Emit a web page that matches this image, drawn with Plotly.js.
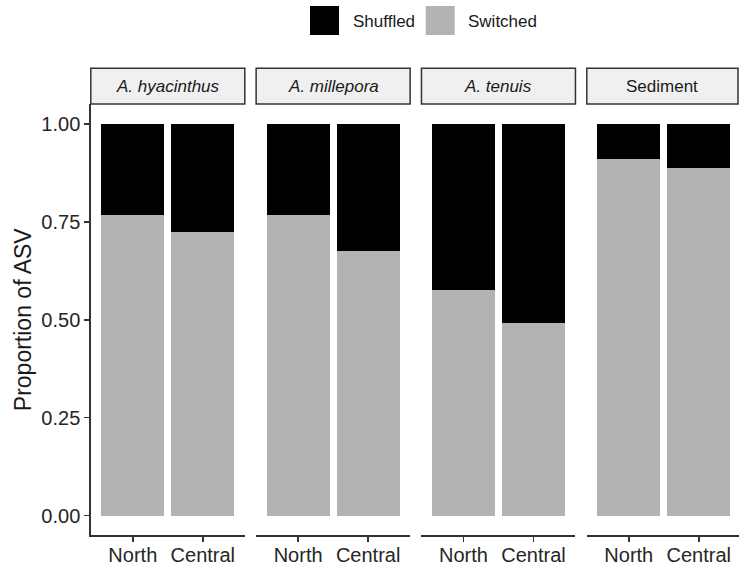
<!DOCTYPE html>
<html>
<head>
<meta charset="utf-8">
<script src="https://cdn.plot.ly/plotly-3.0.1.min.js"></script>
<style>html,body{margin:0;padding:0;background:#fff;}#chart{width:739px;height:570px;}</style>
</head>
<body>
<div id="chart"></div>
<script>
// ---- data ----
const panels = ['A. hyacinthus', 'A. millepora', 'A. tenuis', 'Sediment'];
const panelItalic = [true, true, true, false];
const sites = ['North', 'Central'];
const seriesNames = ['Shuffled', 'Switched'];
const seriesColors = ['#000000', '#b3b3b3'];
const switchedHyacinthus = [0.768, 0.724];
const switchedMillepora = [0.768, 0.676];
const switchedTenuis = [0.577, 0.492];
const switchedSediment = [0.911, 0.887];
const shuffledHyacinthus = [0.232, 0.276];
const shuffledMillepora = [0.232, 0.324];
const shuffledTenuis = [0.423, 0.508];
const shuffledSediment = [0.089, 0.113];
const yTickVals = [0, 0.25, 0.5, 0.75, 1];
const yTickText = ['0.00', '0.25', '0.50', '0.75', '1.00'];

const switchedAll = [switchedHyacinthus, switchedMillepora, switchedTenuis, switchedSediment];
const shuffledAll = [shuffledHyacinthus, shuffledMillepora, shuffledTenuis, shuffledSediment];

// ---- layout geometry (pixels) ----
const W = 739, H = 570;
const FONT = 'Liberation Sans, Arial, Helvetica, sans-serif';
const panelStart0 = 90.8, panelStep = 165.33, panelW = 154;
const plotTop = 104.4, plotBottom = 535.1;
const stripTop = 68.3;
const px = v => v / W;
const py = v => 1 - v / H;

const traces = [];
const layout = {
  width: W, height: H, autosize: false,
  margin: {l: 0, r: 0, t: 0, b: 0, pad: 0},
  paper_bgcolor: '#ffffff', plot_bgcolor: 'rgba(0,0,0,0)',
  barmode: 'stack', bargap: 0.1,
  showlegend: false,
  font: {family: FONT, color: '#262626'},
  shapes: [], annotations: [],
  yaxis: {
    domain: [py(plotBottom), py(plotTop)],
    range: [-0.05, 1.05],
    anchor: 'x',
    tickvals: yTickVals, ticktext: yTickText,
    ticks: 'outside', ticklen: 5, tickwidth: 1.5, tickcolor: '#333333',
    tickfont: {size: 20, family: FONT, color: '#262626'},
    showline: true, linecolor: '#333333', linewidth: 1.5,
    showgrid: false, zeroline: false, fixedrange: true,
    title: {text: 'Proportion of ASV', font: {size: 23, family: FONT, color: '#1a1a1a'}, standoff: 3}
  }
};

panels.forEach((name, i) => {
  const ax = i === 0 ? '' : String(i + 1);
  const s = panelStart0 + i * panelStep;
  let e = s + panelW;
  let rEnd = 1.6;
  if (e > W) { rEnd = -0.6 + (W - s) / panelW * 2.2; e = W; }
  layout['xaxis' + ax] = {
    domain: [px(s), px(e)],
    range: [-0.6, rEnd],
    type: 'category',
    categoryorder: 'array', categoryarray: sites,
    anchor: 'y',
    ticks: 'outside', ticklen: 5, tickwidth: 1.5, tickcolor: '#333333',
    tickfont: {size: 20, family: FONT, color: '#262626'},
    ticklabelstandoff: -4,
    showline: true, linecolor: '#333333', linewidth: 1.5,
    showgrid: false, zeroline: false, fixedrange: true
  };
  traces.push({
    type: 'bar', x: sites, y: switchedAll[i], name: seriesNames[1],
    marker: {color: seriesColors[1], line: {width: 0}},
    xaxis: 'x' + ax, yaxis: 'y', hoverinfo: 'skip'
  });
  traces.push({
    type: 'bar', x: sites, y: shuffledAll[i], name: seriesNames[0],
    marker: {color: seriesColors[0], line: {width: 0}},
    xaxis: 'x' + ax, yaxis: 'y', hoverinfo: 'skip'
  });
  // strip
  const sx1 = Math.min(s + panelW, W - 1);
  layout.shapes.push({
    type: 'rect', xref: 'paper', yref: 'paper',
    x0: px(s), x1: px(sx1), y0: py(plotTop - 0.5), y1: py(stripTop),
    line: {color: '#333333', width: 1.5}, fillcolor: '#f0f0f0', layer: 'above'
  });
  layout.annotations.push({
    xref: 'paper', yref: 'paper', x: px((s + sx1) / 2), y: py((stripTop + plotTop) / 2),
    xanchor: 'center', yanchor: 'middle', showarrow: false,
    text: name,
    font: {size: 17, family: FONT, color: '#1a1a1a', style: panelItalic[i] ? 'italic' : 'normal'}
  });
});

// custom legend on top
const legendBoxes = [[310, 339], [425.7, 454.7]];
const legendTextX = [350.7, 466];
seriesNames.forEach((n, k) => {
  layout.shapes.push({
    type: 'rect', xref: 'paper', yref: 'paper',
    x0: px(legendBoxes[k][0]), x1: px(legendBoxes[k][1]), y0: py(35), y1: py(6),
    line: {width: 0}, fillcolor: seriesColors[k]
  });
  layout.annotations.push({
    xref: 'paper', yref: 'paper', x: px(legendTextX[k]), y: py(21),
    xanchor: 'left', yanchor: 'middle', showarrow: false, text: n,
    font: {size: 17, family: FONT, color: '#1a1a1a'}
  });
});

Plotly.newPlot('chart', traces, layout, {displayModeBar: false, staticPlot: true});
</script>
</body>
</html>
